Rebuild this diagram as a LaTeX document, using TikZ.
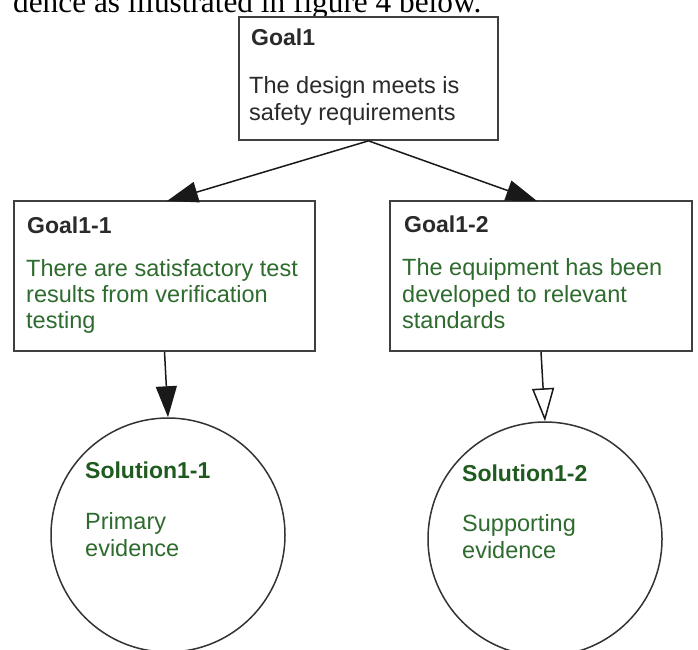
\documentclass[tikz,border=0pt]{standalone}
\usepackage{fontspec}
\setmainfont{Liberation Sans}
\newfontfamily\docserif{Liberation Serif}
\usetikzlibrary{arrows.meta}
\definecolor{txtgreen}{HTML}{2E6B2E}
\definecolor{titlegreen}{HTML}{1F5A1F}
\definecolor{txtgray}{HTML}{2A2A2A}
\begin{document}
\begin{tikzpicture}[x=1pt,y=-1pt,
  goalbox/.style={draw=black!75,line width=1.7pt,fill=white,inner sep=0pt},
  solcircle/.style={draw=black!80,line width=1.5pt,circle,fill=white,inner sep=0pt,minimum size=234pt},
  lbl/.style={anchor=base west,inner sep=0pt,font=\fontsize{23.5}{27}\selectfont},
  ttl/.style={lbl,font=\fontsize{23}{27}\selectfont\bfseries},
  conn/.style={line width=1.5pt,draw=black!90},
  solid head/.style={-{Triangle[length=31pt,width=21pt]}},
  open head/.style={-{Triangle[open,length=33pt,width=22pt,line width=1.5pt]}}
]
\useasboundingbox (0,0) rectangle (698,649);
\clip (0,0) rectangle (698,649);
\fill[white] (0,0) rectangle (698,649);

% document text line, cut at the top
\node[anchor=base west,inner sep=0pt,font=\docserif\fontsize{31.3}{36}\selectfont] (doc) at (13,12) {dence as illustrated in figure 4 below.};

% boxes
\node[goalbox,minimum width=259pt,minimum height=123pt] (g1) at (368.5,78.5) {};
\node[goalbox,minimum width=301pt,minimum height=150pt] (g11) at (164.5,276) {};
\node[goalbox,minimum width=302pt,minimum height=150pt] (g12) at (541,276) {};

% circles
\node[solcircle] (s11) at (168,535) {};
\node[solcircle] (s12) at (545,539) {};

% connectors
\draw[conn,solid head] (g1.south) -- (167,201) coordinate (g11tip);
\draw[conn,solid head] (g1.south) -- (537,201) coordinate (g12tip);
\draw[conn,solid head] (g11.south) -- (s11.north);
\draw[conn,open head] (g12.south) -- (s12.north);

% Goal1 text
\node[ttl,text=txtgray] (g1t) at (251,45) {Goal1};
\node[lbl,text=txtgray] (g1a) at (249,93) {The design meets is};
\node[lbl,text=txtgray] (g1b) at (249,120) {safety requirements};

% Goal1-1 text
\node[ttl,text=txtgray] (g11t) at (27,233) {Goal1-1};
\node[lbl,text=txtgreen] (g11a) at (26,276) {There are satisfactory test};
\node[lbl,text=txtgreen] (g11b) at (26,302) {results from verification};
\node[lbl,text=txtgreen] (g11c) at (26,328) {testing};

% Goal1-2 text
\node[ttl,text=txtgray] (g12t) at (404,232) {Goal1-2};
\node[lbl,text=txtgreen] (g12a) at (402,275) {The equipment has been};
\node[lbl,text=txtgreen] (g12b) at (402,302) {developed to relevant};
\node[lbl,text=txtgreen] (g12c) at (402,328) {standards};

% Solution1-1 text
\node[ttl,text=titlegreen] (s11t) at (85,478) {Solution1-1};
\node[lbl,text=txtgreen] (s11a) at (85,529) {Primary};
\node[lbl,text=txtgreen] (s11b) at (85,556) {evidence};

% Solution1-2 text
\node[ttl,text=titlegreen] (s12t) at (462,481) {Solution1-2};
\node[lbl,text=txtgreen] (s12a) at (462,531) {Supporting};
\node[lbl,text=txtgreen] (s12b) at (462,558) {evidence};
\end{tikzpicture}
\end{document}
